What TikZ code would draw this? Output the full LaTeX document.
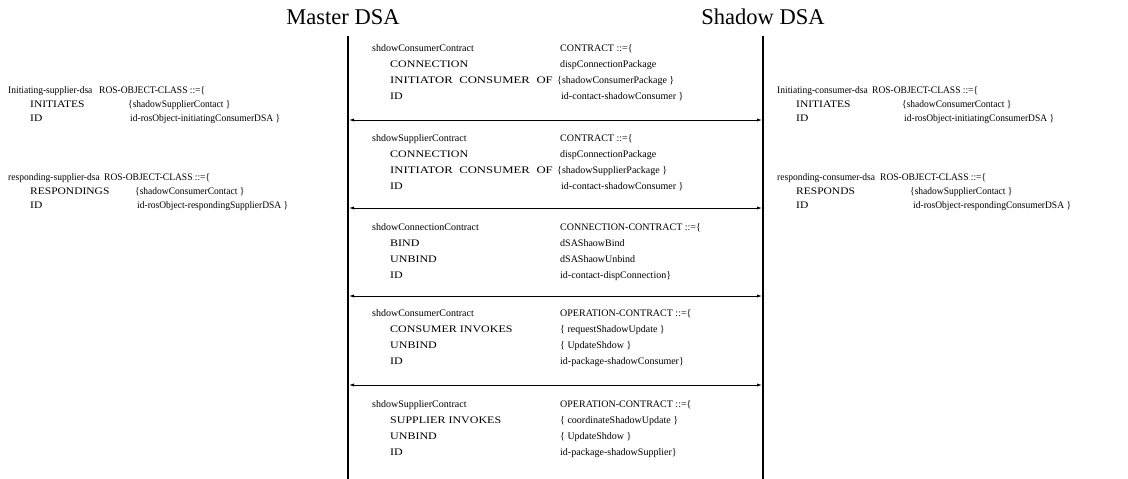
\documentclass[tikz,border=0pt]{standalone}
\usepackage{fontspec}
\usepackage{graphicx}
\setmainfont{Liberation Serif}
\usetikzlibrary{arrows.meta}
\newcommand\kw[1]{\scalebox{1.2}[1]{#1}}
\newcommand\skw[1]{\scalebox{1.15}[1]{#1}}
\newcommand\cn[1]{\scalebox{0.95}[1]{#1}}
\tikzset{
  txt/.style={anchor=base west,inner sep=0pt,font=\fontsize{10}{12}\selectfont},
  ttl/.style={anchor=base,inner sep=0pt,font=\fontsize{22.5}{26}\selectfont},
  lifeline/.style={line width=1.3pt},
  msg/.style={line width=0.8pt,{Latex[length=5pt,width=3.2pt]}-{Latex[length=5pt,width=3.2pt]}}
}
\begin{document}
\begin{tikzpicture}[x=1pt,y=-1pt]
\useasboundingbox (0,0) rectangle (1128,479);
% titles
\node[ttl] (tm) at (343,24) {Master DSA};
\node[ttl] (ts) at (763,24) {Shadow DSA};
% lifelines
\coordinate (LT) at (348,36); \coordinate (LB) at (348,479);
\coordinate (RT) at (763,36); \coordinate (RB) at (763,479);
\draw[lifeline] (LT) -- (LB);
\draw[lifeline] (RT) -- (RB);
% arrows
\foreach \n/\y in {1/120,2/208,3/296,4/385}{
  \coordinate (m\n L) at (349,\y);
  \coordinate (m\n R) at (762,\y);
}
\foreach \n in {1,2,3,4}{ \draw[msg] (m\n L) -- (m\n R); }
% box 1
\node[txt] (b1a) at (372,51) {shdowConsumerContract};
\node[txt] (b1b) at (560,51) {CONTRACT ::=\{};
\node[txt] (b1c) at (390,67) {\kw{CONNECTION}};
\node[txt] (b1d) at (560,67) {dispConnectionPackage};
\node[txt] (b1e) at (390,83) {\scalebox{1.27}[1]{\makebox[128pt][s]{INITIATOR CONSUMER OF}}};
\node[txt] (b1f) at (557,83) {\{shadowConsumerPackage \}};
\node[txt] (b1g) at (390,99) {\kw{ID}};
\node[txt] (b1h) at (561,99) {id-contact-shadowConsumer \}};
% box 2
\node[txt] (b2a) at (372,141) {shdowSupplierContract};
\node[txt] (b2b) at (560,141) {CONTRACT ::=\{};
\node[txt] (b2c) at (390,157) {\kw{CONNECTION}};
\node[txt] (b2d) at (560,157) {dispConnectionPackage};
\node[txt] (b2e) at (390,173) {\scalebox{1.27}[1]{\makebox[128pt][s]{INITIATOR CONSUMER OF}}};
\node[txt] (b2f) at (557,173) {\{shadowSupplierPackage \}};
\node[txt] (b2g) at (390,189) {\kw{ID}};
\node[txt] (b2h) at (561,189) {id-contact-shadowConsumer \}};
% box 3
\node[txt] (b3a) at (372,230) {shdowConnectionContract};
\node[txt] (b3b) at (560,230) {CONNECTION-CONTRACT ::=\{};
\node[txt] (b3c) at (390,246) {\kw{BIND}};
\node[txt] (b3d) at (560,246) {dSAShaowBind};
\node[txt] (b3e) at (390,262) {\kw{UNBIND}};
\node[txt] (b3f) at (560,262) {dSAShaowUnbind};
\node[txt] (b3g) at (390,278) {\kw{ID}};
\node[txt] (b3h) at (560,278) {id-contact-dispConnection\}};
% box 4
\node[txt] (b4a) at (372,316) {shdowConsumerContract};
\node[txt] (b4b) at (560,316) {OPERATION-CONTRACT ::=\{};
\node[txt] (b4c) at (390,332) {\kw{CONSUMER INVOKES}};
\node[txt] (b4d) at (560,332) {\{ requestShadowUpdate \}};
\node[txt] (b4e) at (390,348) {\kw{UNBIND}};
\node[txt] (b4f) at (560,348) {\{ UpdateShdow \}};
\node[txt] (b4g) at (390,364) {\kw{ID}};
\node[txt] (b4h) at (560,364) {id-package-shadowConsumer\}};
% box 5
\node[txt] (b5a) at (372,407) {shdowSupplierContract};
\node[txt] (b5b) at (560,407) {OPERATION-CONTRACT ::=\{};
\node[txt] (b5c) at (390,423) {\kw{SUPPLIER INVOKES}};
\node[txt] (b5d) at (560,423) {\{ coordinateShadowUpdate \}};
\node[txt] (b5e) at (390,439) {\kw{UNBIND}};
\node[txt] (b5f) at (560,439) {\{ UpdateShdow \}};
\node[txt] (b5g) at (390,455) {\kw{ID}};
\node[txt] (b5h) at (560,455) {id-package-shadowSupplier\}};
% left blocks
\node[txt] (l1a) at (8,93) {\cn{Initiating-supplier-dsa}};
\node[txt] (l1b) at (99,93) {\cn{ROS-OBJECT-CLASS ::=\{}};
\node[txt] (l1c) at (30,107) {\skw{INITIATES}};
\node[txt] (l1d) at (128,107) {\cn{\{shadowSupplierContact \}}};
\node[txt] (l1e) at (30,121) {\skw{ID}};
\node[txt] (l1f) at (130,121) {\cn{id-rosObject-initiatingConsumerDSA \}}};
\node[txt] (l2a) at (8,180) {\cn{responding-supplier-dsa}};
\node[txt] (l2b) at (104,180) {\cn{ROS-OBJECT-CLASS ::=\{}};
\node[txt] (l2c) at (30,194) {\skw{RESPONDINGS}};
\node[txt] (l2d) at (135,194) {\cn{\{shadowConsumerContact \}}};
\node[txt] (l2e) at (30,208) {\skw{ID}};
\node[txt] (l2f) at (137,208) {\cn{id-rosObject-respondingSupplierDSA \}}};
% right blocks
\node[txt] (r1a) at (777,93) {\cn{Initiating-consumer-dsa}};
\node[txt] (r1b) at (872,93) {\cn{ROS-OBJECT-CLASS ::=\{}};
\node[txt] (r1c) at (796,107) {\skw{INITIATES}};
\node[txt] (r1d) at (902,107) {\cn{\{shadowConsumerContact \}}};
\node[txt] (r1e) at (796,121) {\skw{ID}};
\node[txt] (r1f) at (904,121) {\cn{id-rosObject-initiatingConsumerDSA \}}};
\node[txt] (r2a) at (777,180) {\cn{responding-consumer-dsa}};
\node[txt] (r2b) at (880,180) {\cn{ROS-OBJECT-CLASS ::=\{}};
\node[txt] (r2c) at (796,194) {\skw{RESPONDS}};
\node[txt] (r2d) at (910,194) {\cn{\{shadowSupplierContact \}}};
\node[txt] (r2e) at (796,208) {\skw{ID}};
\node[txt] (r2f) at (913,208) {\cn{id-rosObject-respondingConsumerDSA \}}};
\end{tikzpicture}
\end{document}
